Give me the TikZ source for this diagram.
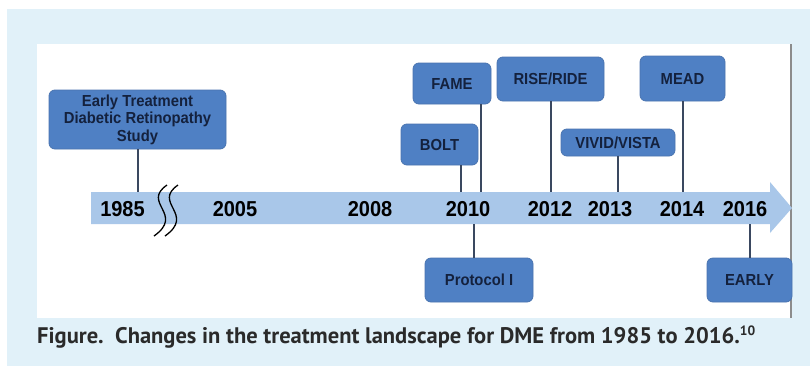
\documentclass[tikz,border=0pt]{standalone}
\usepackage{fontspec}
\setmainfont{Liberation Sans}
\newfontfamily\capfont{PT Sans}
\usepackage{graphicx}
\definecolor{panel}{HTML}{E1F1F9}
\definecolor{bandcol}{HTML}{A9C7E9}
\definecolor{boxfill}{HTML}{4F80C4}
\definecolor{boxedge}{HTML}{4A74B0}
\definecolor{boxtext}{HTML}{14213D}
\definecolor{linkcol}{HTML}{3A4860}
\definecolor{capcol}{HTML}{2A2A2A}
\definecolor{edgegray}{HTML}{8C8C8C}
\newcommand{\tl}[1]{\scalebox{1}[1.08]{#1}}
\begin{document}
\begin{tikzpicture}[x=1pt,y=-1pt,
  box/.style={draw=boxedge, fill=boxfill, rounded corners=6pt, line width=0.8pt,
    inner sep=0pt, font=\fontsize{14.8}{17.5}\selectfont\bfseries, text=boxtext, align=center},
  link/.style={draw=linkcol, line width=2pt},
  year/.style={font=\fontsize{20}{20}\selectfont\bfseries, text=black, inner sep=0pt},
  brk/.style={draw=black, line width=1.3pt}]
% background and panels
\fill[white] (0,0) rectangle (810,367);
\useasboundingbox (0,0) rectangle (810,367);
\fill[panel] (7,9) rectangle (810,366);
\fill[white] (37,44) rectangle (791,318);
\draw[edgegray, line width=1.2pt] (791,44) -- (791,318);
% timeline band
\fill[bandcol] (91,192) -- (770,192) -- (770,182) -- (792,208) -- (770,233) -- (770,224) -- (91,224) -- cycle;
\coordinate (bandtop) at (0,192);
\coordinate (bandbot) at (0,224);
% break mark
\draw[brk] (167,185) .. controls (141,203) and (185,214) .. (154,236);
\draw[brk] (178,185) .. controls (152,203) and (196,214) .. (165,236);
% years
\node[year] (y1985) at (122.5,209) {\tl{1985}};
\node[year] (y2005) at (235,209) {\tl{2005}};
\node[year] (y2008) at (370,209) {\tl{2008}};
\node[year] (y2010) at (468,209) {\tl{2010}};
\node[year] (y2012) at (550,209) {\tl{2012}};
\node[year] (y2013) at (610,209) {\tl{2013}};
\node[year] (y2014) at (682,209) {\tl{2014}};
\node[year] (y2016) at (745,209) {\tl{2016}};
% boxes
\node[box, minimum width=177pt, minimum height=59pt] (etdrs) at (137.5,119.5)
  {\tl{Early Treatment}\\\tl{Diabetic Retinopathy}\\\tl{Study}};
\node[box, minimum width=78pt, minimum height=41pt] (fame) at (452,83.5) {\tl{FAME}};
\node[box, minimum width=107pt, minimum height=44pt] (rise) at (550.5,79) {\tl{RISE/RIDE}};
\node[box, minimum width=85pt, minimum height=45pt] (mead) at (682.5,78.5) {\tl{MEAD}};
\node[box, minimum width=77pt, minimum height=41pt] (bolt) at (439.5,144.5) {\tl{BOLT}};
\node[box, minimum width=114pt, minimum height=27pt] (vivid) at (618,142.5) {\tl{VIVID/VISTA}};
\node[box, minimum width=108pt, minimum height=44pt] (prot) at (479,280) {\tl{Protocol I}};
\node[box, minimum width=85pt, minimum height=44pt] (early) at (749.5,280) {\tl{EARLY}};
% connectors
\draw[link] (etdrs.south) -- (etdrs.south |- bandtop);
\draw[link] ([xshift=29pt]fame.south) -- ([xshift=29pt]fame.south |- bandtop);
\draw[link] (rise.south) -- (rise.south |- bandtop);
\draw[link] (mead.south) -- (mead.south |- bandtop);
\draw[link] ([xshift=21.5pt]bolt.south) -- ([xshift=21.5pt]bolt.south |- bandtop);
\draw[link] (vivid.south) -- (vivid.south |- bandtop);
\draw[link] ([xshift=-5pt]prot.north) -- ([xshift=-5pt]prot.north |- bandbot);
\draw[link] (early.north) -- (early.north |- bandbot);
% caption
\node[anchor=base west, inner sep=0pt, text=capcol] (cap) at (37,343)
  {\resizebox{718pt}{!}{\capfont\bfseries\fontsize{20}{20}\selectfont Figure.\ \ Changes in the treatment landscape for DME from 1985 to 2016.\raisebox{7pt}{\fontsize{12}{12}\selectfont 10}}};
\end{tikzpicture}
\end{document}
